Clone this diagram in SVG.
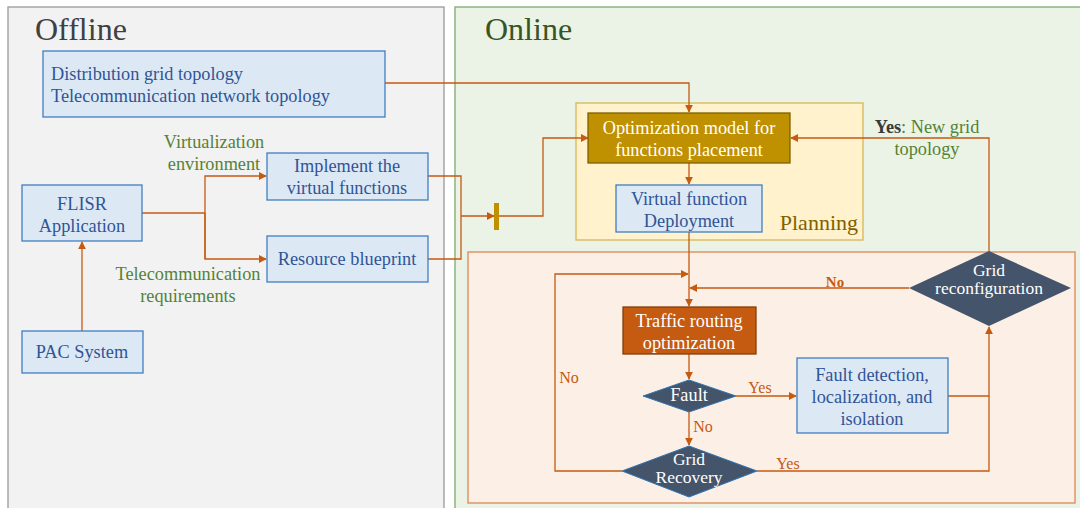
<svg xmlns="http://www.w3.org/2000/svg" width="1080" height="508" viewBox="0 0 1080 508" font-family="'Liberation Serif', 'Times New Roman', serif">
<defs>
<marker id="ah" viewBox="0 0 10 10" refX="9" refY="5" markerWidth="8" markerHeight="8" markerUnits="userSpaceOnUse" orient="auto">
<path d="M0,0 L10,5 L0,10 z" fill="#c55a11"/>
</marker>
<style>
.box{fill:#dde8f5;stroke:#3f7fc0;stroke-width:1.3;}
.bt{fill:#2f5597;font-size:18.3px;text-anchor:middle;}
.gl{fill:#548235;font-size:18.3px;text-anchor:middle;}
.wt{fill:#ffffff;font-size:18.3px;text-anchor:middle;}
.dt{fill:#ffffff;font-size:17.5px;text-anchor:middle;}
.ol{fill:#c55a11;font-size:16px;}
.con{fill:none;stroke:#c55a11;stroke-width:1.3;}
.dia{fill:#44546a;stroke:#2e75b6;stroke-width:1;}
</style>
</defs>

<g id="offline-panel">
<rect x="8" y="7" width="436" height="510" fill="#f2f2f2" stroke="#999999" stroke-width="1.3"/>
<text x="35" y="40" font-size="32" fill="#404040">Offline</text>
</g>
<g id="online-panel">
<rect x="455" y="7" width="630" height="510" fill="#ebf3e7" stroke="#8fb47c" stroke-width="1.5"/>
<text x="485" y="40" font-size="32" fill="#375623">Online</text>
</g>
<g id="planning">
<rect x="576" y="103" width="287" height="137" fill="#fff2cc" stroke="#d6b656" stroke-width="1.3"/>
<text x="858" y="230" font-size="22" fill="#7f6000" text-anchor="end">Planning</text>
</g>
<g id="operation">
<rect x="468" y="252" width="607" height="251" fill="#fcefe6" stroke="#e0956a" stroke-width="1.5"/>
</g>

<g id="connectors">
<polyline class="con" points="385,83 689,83 689,112" marker-end="url(#ah)"/>
<line class="con" x1="82" y1="331" x2="82" y2="242" marker-end="url(#ah)"/>
<polyline class="con" points="142,213 205,213"/>
<polyline class="con" points="205,259 205,176 266,176" marker-end="url(#ah)"/>
<polyline class="con" points="205,213 205,259 266,259" marker-end="url(#ah)"/>
<polyline class="con" points="428,176 461,176 461,259 428,259"/>
<line class="con" x1="461" y1="216" x2="494" y2="216" marker-end="url(#ah)"/>
<polyline class="con" points="498,216 543,216 543,138 588,138" marker-end="url(#ah)"/>
<line class="con" x1="689" y1="163" x2="689" y2="184" marker-end="url(#ah)"/>
<line class="con" x1="689" y1="232" x2="689" y2="306" marker-end="url(#ah)"/>
<polyline class="con" points="989,251 989,138 791,138" marker-end="url(#ah)"/>
<line class="con" x1="909" y1="288" x2="690" y2="288" marker-end="url(#ah)"/>
<line class="con" x1="689" y1="354" x2="689" y2="379" marker-end="url(#ah)"/>
<line class="con" x1="736" y1="396" x2="796" y2="396" marker-end="url(#ah)"/>
<polyline class="con" points="948,396 989,396 989,327" marker-end="url(#ah)"/>
<line class="con" x1="689" y1="412" x2="689" y2="445" marker-end="url(#ah)"/>
<polyline class="con" points="757,471 989,471 989,396"/>
<polyline class="con" points="622,471 555,471 555,274 688,274" marker-end="url(#ah)"/>
<rect x="494" y="203" width="5" height="27" fill="#bf9000"/>
<text x="927" y="133" font-size="18.3" fill="#548235" text-anchor="middle"><tspan font-weight="bold" fill="#3a3a3a">Yes</tspan>: New grid</text>
<text x="927" y="155" font-size="18.3" fill="#548235" text-anchor="middle">topology</text>
<text x="835" y="287" font-size="15" font-weight="bold" fill="#c55a11" text-anchor="middle">No</text>
<text x="760" y="393" class="ol" text-anchor="middle">Yes</text>
<text x="703" y="432" class="ol" text-anchor="middle">No</text>
<text x="788" y="469" class="ol" text-anchor="middle">Yes</text>
<text x="569" y="383" class="ol" text-anchor="middle">No</text>
<text x="214" y="148" class="gl">Virtualization</text>
<text x="214" y="170" class="gl">environment</text>
<text x="188" y="280" class="gl">Telecommunication</text>
<text x="188" y="302" class="gl">requirements</text>
</g>

<g id="topology">
<rect class="box" x="43" y="51" width="342" height="66"/>
<text class="bt" x="51" y="80" style="text-anchor:start">Distribution grid topology</text>
<text class="bt" x="51" y="102" style="text-anchor:start">Telecommunication network topology</text>
</g>
<g id="implement">
<rect class="box" x="267" y="153" width="161" height="47"/>
<text class="bt" x="347" y="172">Implement the</text>
<text class="bt" x="347" y="194">virtual functions</text>
</g>
<g id="flisr">
<rect class="box" x="22" y="185" width="120" height="56"/>
<text class="bt" x="82" y="210">FLISR</text>
<text class="bt" x="82" y="232">Application</text>
</g>
<g id="blueprint">
<rect class="box" x="267" y="236" width="161" height="46"/>
<text class="bt" x="347" y="265">Resource blueprint</text>
</g>
<g id="pac">
<rect class="box" x="22" y="331" width="121" height="42"/>
<text class="bt" x="82" y="358">PAC System</text>
</g>
<g id="optimization">
<rect x="588" y="113" width="202" height="50" fill="#bf9000" stroke="#7f6000" stroke-width="1.3"/>
<text class="wt" x="689" y="134">Optimization model for</text>
<text class="wt" x="689" y="156">functions placement</text>
</g>
<g id="deployment">
<rect class="box" x="616" y="185" width="146" height="47"/>
<text class="bt" x="689" y="205">Virtual function</text>
<text class="bt" x="689" y="227">Deployment</text>
</g>
<g id="traffic">
<rect x="623" y="307" width="133" height="47" fill="#c55a11" stroke="#843c0c" stroke-width="1.3"/>
<text class="wt" x="689" y="327">Traffic routing</text>
<text class="wt" x="689" y="349">optimization</text>
</g>
<g id="fault">
<polygon class="dia" points="689,380 736,396 689,412 643,396"/>
<text class="wt" x="689" y="401">Fault</text>
</g>
<g id="fdli">
<rect class="box" x="797" y="358" width="151" height="75"/>
<text class="bt" x="872" y="381">Fault detection,</text>
<text class="bt" x="872" y="403">localization, and</text>
<text class="bt" x="872" y="425">isolation</text>
</g>
<g id="recovery">
<polygon class="dia" points="689,446 757,471 689,497 622,471"/>
<text class="dt" x="689" y="465">Grid</text>
<text class="dt" x="689" y="483">Recovery</text>
</g>
<g id="reconfig">
<polygon class="dia" points="989,251 1071,288 989,326 909,288" style="stroke:none"/>
<text class="dt" x="989" y="276">Grid</text>
<text class="dt" x="989" y="294">reconfiguration</text>
</g>
</svg>
